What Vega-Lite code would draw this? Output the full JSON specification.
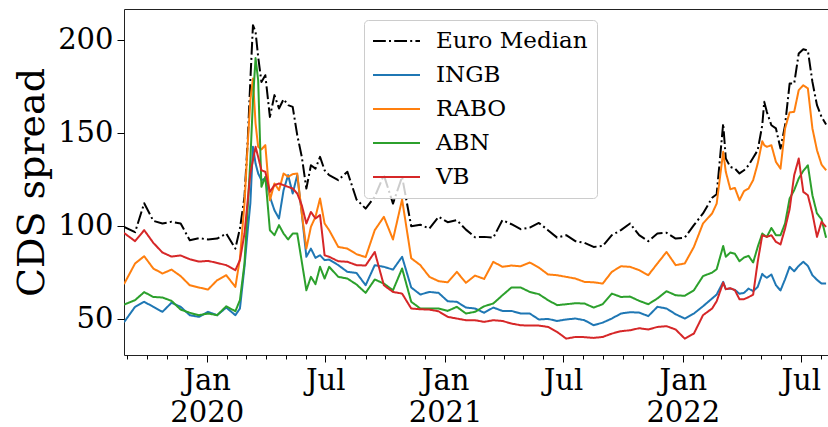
{
  "$schema": "https://vega.github.io/schema/vega-lite/v6.json",
  "width": 706,
  "height": 346,
  "autosize": {"type": "none"},
  "padding": {"left": 124, "top": 9, "right": 0, "bottom": 72},
  "background": "white",
  "config": {
    "view": {"stroke": "#222", "strokeWidth": 1},
    "font": "DejaVu Serif",
    "axis": {"grid": false, "domain": false, "tickColor": "#000", "labelColor": "#000", "titleColor": "#000", "labelFont": "DejaVu Serif", "titleFont": "DejaVu Serif"}
  },
  "layer": [
    {
      "data": {
        "values": [
          {"date": "2019-08-27", "Euro Median": 99.3, "INGB": 48.0, "RABO": 68.5, "ABN": 57.5, "VB": 96.0},
          {"date": "2019-09-13", "Euro Median": 96.4, "INGB": 56.3, "RABO": 79.6, "ABN": 59.9, "VB": 91.6},
          {"date": "2019-09-27", "Euro Median": 112.0, "INGB": 59.0, "RABO": 83.5, "ABN": 64.2, "VB": 97.5},
          {"date": "2019-10-11", "Euro Median": 102.5, "INGB": 56.3, "RABO": 76.9, "ABN": 61.6, "VB": 90.7},
          {"date": "2019-10-25", "Euro Median": 101.1, "INGB": 53.6, "RABO": 74.2, "ABN": 61.3, "VB": 85.5},
          {"date": "2019-11-08", "Euro Median": 102.0, "INGB": 58.5, "RABO": 76.3, "ABN": 59.5, "VB": 83.3},
          {"date": "2019-11-22", "Euro Median": 101.1, "INGB": 56.3, "RABO": 72.8, "ABN": 54.8, "VB": 83.9},
          {"date": "2019-12-06", "Euro Median": 92.1, "INGB": 51.8, "RABO": 67.9, "ABN": 53.1, "VB": 81.9},
          {"date": "2019-12-20", "Euro Median": 93.2, "INGB": 50.9, "RABO": 66.7, "ABN": 51.8, "VB": 80.6},
          {"date": "2020-01-03", "Euro Median": 92.5, "INGB": 53.6, "RABO": 65.6, "ABN": 52.7, "VB": 81.0},
          {"date": "2020-01-17", "Euro Median": 93.0, "INGB": 51.8, "RABO": 70.6, "ABN": 51.8, "VB": 79.9},
          {"date": "2020-01-31", "Euro Median": 95.7, "INGB": 55.9, "RABO": 73.3, "ABN": 56.6, "VB": 78.7},
          {"date": "2020-02-14", "Euro Median": 87.6, "INGB": 51.8, "RABO": 67.0, "ABN": 53.9, "VB": 76.0},
          {"date": "2020-02-21", "Euro Median": 98.4, "INGB": 55.4, "RABO": 82.3, "ABN": 59.9, "VB": 81.4},
          {"date": "2020-02-28", "Euro Median": 115.4, "INGB": 77.8, "RABO": 111.8, "ABN": 79.6, "VB": 95.7},
          {"date": "2020-03-04", "Euro Median": 145.9, "INGB": 97.5, "RABO": 144.1, "ABN": 110.0, "VB": 113.6},
          {"date": "2020-03-08", "Euro Median": 178.1, "INGB": 111.8, "RABO": 167.4, "ABN": 135.1, "VB": 128.0},
          {"date": "2020-03-12", "Euro Median": 207.7, "INGB": 142.3, "RABO": 179.0, "ABN": 167.4, "VB": 135.1},
          {"date": "2020-03-16", "Euro Median": 204.1, "INGB": 133.3, "RABO": 154.8, "ABN": 190.0, "VB": 142.3},
          {"date": "2020-03-20", "Euro Median": 190.7, "INGB": 128.0, "RABO": 142.3, "ABN": 178.1, "VB": 136.9},
          {"date": "2020-03-25", "Euro Median": 177.2, "INGB": 124.4, "RABO": 140.9, "ABN": 120.8, "VB": 129.7},
          {"date": "2020-03-31", "Euro Median": 180.8, "INGB": 125.3, "RABO": 143.2, "ABN": 126.2, "VB": 128.9},
          {"date": "2020-04-07", "Euro Median": 158.4, "INGB": 115.4, "RABO": 113.6, "ABN": 97.5, "VB": 118.1},
          {"date": "2020-04-14", "Euro Median": 170.1, "INGB": 108.2, "RABO": 122.6, "ABN": 94.8, "VB": 121.7},
          {"date": "2020-04-21", "Euro Median": 162.9, "INGB": 103.8, "RABO": 119.0, "ABN": 100.2, "VB": 122.6},
          {"date": "2020-04-28", "Euro Median": 167.9, "INGB": 119.0, "RABO": 128.0, "ABN": 95.7, "VB": 121.7},
          {"date": "2020-05-05", "Euro Median": 164.7, "INGB": 127.1, "RABO": 126.2, "ABN": 92.5, "VB": 120.8},
          {"date": "2020-05-12", "Euro Median": 163.8, "INGB": 117.2, "RABO": 127.6, "ABN": 95.7, "VB": 119.9},
          {"date": "2020-05-19", "Euro Median": 148.6, "INGB": 127.1, "RABO": 128.0, "ABN": 95.7, "VB": 117.2},
          {"date": "2020-05-26", "Euro Median": 136.9, "INGB": 106.5, "RABO": 106.5, "ABN": 80.5, "VB": 110.9},
          {"date": "2020-06-02", "Euro Median": 119.9, "INGB": 83.2, "RABO": 87.6, "ABN": 65.2, "VB": 101.1},
          {"date": "2020-06-09", "Euro Median": 132.4, "INGB": 87.6, "RABO": 99.3, "ABN": 72.4, "VB": 107.3},
          {"date": "2020-06-16", "Euro Median": 130.6, "INGB": 82.6, "RABO": 104.7, "ABN": 68.5, "VB": 103.8},
          {"date": "2020-06-23", "Euro Median": 136.9, "INGB": 84.0, "RABO": 114.5, "ABN": 77.8, "VB": 105.6},
          {"date": "2020-06-30", "Euro Median": 129.7, "INGB": 81.4, "RABO": 101.1, "ABN": 71.5, "VB": 84.0},
          {"date": "2020-07-07", "Euro Median": 127.1, "INGB": 81.7, "RABO": 97.5, "ABN": 77.8, "VB": 83.2},
          {"date": "2020-07-21", "Euro Median": 124.4, "INGB": 78.7, "RABO": 88.5, "ABN": 72.4, "VB": 80.8},
          {"date": "2020-08-04", "Euro Median": 128.9, "INGB": 75.1, "RABO": 87.6, "ABN": 71.5, "VB": 80.5},
          {"date": "2020-08-18", "Euro Median": 114.0, "INGB": 74.5, "RABO": 84.6, "ABN": 68.3, "VB": 78.7},
          {"date": "2020-09-01", "Euro Median": 109.1, "INGB": 67.9, "RABO": 83.0, "ABN": 63.8, "VB": 78.5},
          {"date": "2020-09-15", "Euro Median": 115.4, "INGB": 78.7, "RABO": 97.5, "ABN": 71.0, "VB": 85.8},
          {"date": "2020-09-29", "Euro Median": 127.1, "INGB": 77.8, "RABO": 104.7, "ABN": 68.8, "VB": 67.9},
          {"date": "2020-10-13", "Euro Median": 111.8, "INGB": 76.3, "RABO": 92.5, "ABN": 65.2, "VB": 64.3},
          {"date": "2020-10-27", "Euro Median": 126.2, "INGB": 83.2, "RABO": 114.0, "ABN": 76.9, "VB": 63.4},
          {"date": "2020-11-10", "Euro Median": 99.6, "INGB": 66.7, "RABO": 82.4, "ABN": 59.0, "VB": 55.4},
          {"date": "2020-11-24", "Euro Median": 100.4, "INGB": 62.9, "RABO": 78.7, "ABN": 55.4, "VB": 55.0},
          {"date": "2020-12-08", "Euro Median": 98.4, "INGB": 64.3, "RABO": 72.4, "ABN": 55.4, "VB": 54.8},
          {"date": "2020-12-22", "Euro Median": 104.7, "INGB": 63.8, "RABO": 70.1, "ABN": 55.4, "VB": 53.9},
          {"date": "2021-01-05", "Euro Median": 101.8, "INGB": 59.3, "RABO": 69.5, "ABN": 54.1, "VB": 50.9},
          {"date": "2021-01-19", "Euro Median": 102.9, "INGB": 59.0, "RABO": 75.1, "ABN": 56.3, "VB": 50.0},
          {"date": "2021-02-02", "Euro Median": 97.8, "INGB": 55.9, "RABO": 69.2, "ABN": 52.7, "VB": 49.1},
          {"date": "2021-02-16", "Euro Median": 93.7, "INGB": 55.4, "RABO": 73.1, "ABN": 53.6, "VB": 49.1},
          {"date": "2021-03-02", "Euro Median": 93.9, "INGB": 53.1, "RABO": 71.3, "ABN": 56.6, "VB": 48.2},
          {"date": "2021-03-16", "Euro Median": 93.5, "INGB": 55.9, "RABO": 80.5, "ABN": 58.1, "VB": 49.1},
          {"date": "2021-03-30", "Euro Median": 102.9, "INGB": 54.1, "RABO": 77.8, "ABN": 62.5, "VB": 48.7},
          {"date": "2021-04-13", "Euro Median": 100.7, "INGB": 54.1, "RABO": 78.5, "ABN": 66.7, "VB": 47.3},
          {"date": "2021-04-27", "Euro Median": 98.0, "INGB": 52.7, "RABO": 78.1, "ABN": 66.7, "VB": 46.4},
          {"date": "2021-05-11", "Euro Median": 98.9, "INGB": 52.7, "RABO": 80.1, "ABN": 64.3, "VB": 46.2},
          {"date": "2021-05-25", "Euro Median": 101.4, "INGB": 49.5, "RABO": 77.4, "ABN": 63.1, "VB": 46.2},
          {"date": "2021-06-08", "Euro Median": 97.5, "INGB": 49.8, "RABO": 73.7, "ABN": 59.9, "VB": 45.5},
          {"date": "2021-06-22", "Euro Median": 93.5, "INGB": 48.7, "RABO": 73.3, "ABN": 57.2, "VB": 42.8},
          {"date": "2021-07-06", "Euro Median": 94.8, "INGB": 49.5, "RABO": 72.4, "ABN": 57.7, "VB": 39.2},
          {"date": "2021-07-20", "Euro Median": 91.6, "INGB": 50.0, "RABO": 71.5, "ABN": 58.2, "VB": 40.1},
          {"date": "2021-08-03", "Euro Median": 90.7, "INGB": 49.1, "RABO": 69.7, "ABN": 58.1, "VB": 40.0},
          {"date": "2021-08-17", "Euro Median": 88.5, "INGB": 46.4, "RABO": 69.5, "ABN": 55.9, "VB": 39.6},
          {"date": "2021-08-31", "Euro Median": 89.0, "INGB": 47.8, "RABO": 68.8, "ABN": 57.7, "VB": 40.1},
          {"date": "2021-09-14", "Euro Median": 94.8, "INGB": 50.0, "RABO": 75.1, "ABN": 63.4, "VB": 41.9},
          {"date": "2021-09-28", "Euro Median": 97.5, "INGB": 52.7, "RABO": 78.1, "ABN": 61.6, "VB": 43.2},
          {"date": "2021-10-12", "Euro Median": 101.1, "INGB": 53.4, "RABO": 77.8, "ABN": 61.8, "VB": 43.7},
          {"date": "2021-10-26", "Euro Median": 94.8, "INGB": 53.2, "RABO": 76.0, "ABN": 59.5, "VB": 44.8},
          {"date": "2021-11-09", "Euro Median": 91.6, "INGB": 51.3, "RABO": 73.3, "ABN": 57.7, "VB": 44.1},
          {"date": "2021-11-23", "Euro Median": 95.7, "INGB": 56.3, "RABO": 79.6, "ABN": 60.8, "VB": 45.5},
          {"date": "2021-12-07", "Euro Median": 96.1, "INGB": 55.4, "RABO": 85.8, "ABN": 64.7, "VB": 45.9},
          {"date": "2021-12-21", "Euro Median": 93.0, "INGB": 52.3, "RABO": 78.7, "ABN": 62.5, "VB": 44.1},
          {"date": "2022-01-04", "Euro Median": 93.5, "INGB": 50.0, "RABO": 79.6, "ABN": 62.2, "VB": 39.2},
          {"date": "2022-01-18", "Euro Median": 100.2, "INGB": 52.7, "RABO": 88.5, "ABN": 65.2, "VB": 41.9},
          {"date": "2022-02-01", "Euro Median": 106.5, "INGB": 56.6, "RABO": 101.1, "ABN": 72.8, "VB": 51.8},
          {"date": "2022-02-15", "Euro Median": 114.9, "INGB": 60.8, "RABO": 106.5, "ABN": 74.7, "VB": 55.4},
          {"date": "2022-02-22", "Euro Median": 116.8, "INGB": 62.9, "RABO": 111.8, "ABN": 76.5, "VB": 59.3},
          {"date": "2022-03-04", "Euro Median": 154.8, "INGB": 69.7, "RABO": 139.6, "ABN": 89.0, "VB": 69.3},
          {"date": "2022-03-08", "Euro Median": 136.0, "INGB": 65.8, "RABO": 128.9, "ABN": 83.2, "VB": 65.8},
          {"date": "2022-03-15", "Euro Median": 131.5, "INGB": 66.1, "RABO": 119.5, "ABN": 85.5, "VB": 66.3},
          {"date": "2022-03-22", "Euro Median": 130.6, "INGB": 65.4, "RABO": 120.2, "ABN": 84.8, "VB": 65.2},
          {"date": "2022-03-29", "Euro Median": 128.0, "INGB": 63.3, "RABO": 113.6, "ABN": 80.8, "VB": 60.4},
          {"date": "2022-04-05", "Euro Median": 129.7, "INGB": 63.8, "RABO": 118.5, "ABN": 82.8, "VB": 60.4},
          {"date": "2022-04-12", "Euro Median": 132.4, "INGB": 66.1, "RABO": 119.9, "ABN": 83.7, "VB": 61.5},
          {"date": "2022-04-19", "Euro Median": 136.4, "INGB": 64.7, "RABO": 124.4, "ABN": 80.1, "VB": 62.9},
          {"date": "2022-04-26", "Euro Median": 140.5, "INGB": 67.0, "RABO": 133.3, "ABN": 88.5, "VB": 80.5},
          {"date": "2022-05-03", "Euro Median": 153.9, "INGB": 74.0, "RABO": 145.3, "ABN": 95.7, "VB": 94.8},
          {"date": "2022-05-06", "Euro Median": 166.5, "INGB": 72.9, "RABO": 143.2, "ABN": 94.8, "VB": 94.4},
          {"date": "2022-05-10", "Euro Median": 161.1, "INGB": 71.9, "RABO": 142.3, "ABN": 93.9, "VB": 93.9},
          {"date": "2022-05-17", "Euro Median": 153.9, "INGB": 73.7, "RABO": 143.2, "ABN": 98.7, "VB": 94.8},
          {"date": "2022-05-24", "Euro Median": 152.2, "INGB": 67.9, "RABO": 134.2, "ABN": 94.8, "VB": 91.2},
          {"date": "2022-05-31", "Euro Median": 141.4, "INGB": 65.1, "RABO": 130.6, "ABN": 94.8, "VB": 89.8},
          {"date": "2022-06-07", "Euro Median": 153.9, "INGB": 71.1, "RABO": 152.2, "ABN": 101.1, "VB": 98.4},
          {"date": "2022-06-14", "Euro Median": 176.3, "INGB": 77.8, "RABO": 160.8, "ABN": 114.5, "VB": 108.8},
          {"date": "2022-06-21", "Euro Median": 176.3, "INGB": 75.4, "RABO": 161.1, "ABN": 119.0, "VB": 127.0},
          {"date": "2022-06-28", "Euro Median": 192.5, "INGB": 78.3, "RABO": 172.8, "ABN": 125.3, "VB": 136.0},
          {"date": "2022-07-05", "Euro Median": 194.8, "INGB": 80.5, "RABO": 175.4, "ABN": 129.4, "VB": 118.1},
          {"date": "2022-07-12", "Euro Median": 194.1, "INGB": 78.3, "RABO": 173.7, "ABN": 132.4, "VB": 116.3},
          {"date": "2022-07-19", "Euro Median": 177.2, "INGB": 73.3, "RABO": 152.2, "ABN": 116.3, "VB": 106.5},
          {"date": "2022-07-26", "Euro Median": 164.7, "INGB": 70.8, "RABO": 140.5, "ABN": 106.5, "VB": 93.9},
          {"date": "2022-08-02", "Euro Median": 158.4, "INGB": 68.8, "RABO": 132.8, "ABN": 103.4, "VB": 102.0},
          {"date": "2022-08-09", "Euro Median": 154.3, "INGB": 68.8, "RABO": 129.7, "ABN": 93.4, "VB": 99.3}
        ]
      },
      "transform": [{"fold": ["Euro Median", "INGB", "RABO", "ABN", "VB"], "as": ["series", "value"]}],
      "mark": {"type": "line", "strokeWidth": 2, "strokeJoin": "round", "clip": true},
      "encoding": {
        "x": {
          "field": "date", "type": "temporal",
          "scale": {"type": "utc", "domain": ["2019-08-27", "2022-08-15"]},
          "axis": {
            "title": null,
            "orient": "bottom",
            "values": [
              {"year": 2020, "month": 1, "date": 1, "utc": true},
              {"year": 2020, "month": 7, "date": 1, "utc": true},
              {"year": 2021, "month": 1, "date": 1, "utc": true},
              {"year": 2021, "month": 7, "date": 1, "utc": true},
              {"year": 2022, "month": 1, "date": 1, "utc": true},
              {"year": 2022, "month": 7, "date": 1, "utc": true}
            ],
            "labelExpr": "utcmonth(datum.value) == 0 ? ['Jan', utcFormat(datum.value, '%Y')] : 'Jul'",
            "labelFontSize": 29,
            "labelLineHeight": 32,
            "labelPadding": 4,
            "tickSize": 7,
            "labelFlush": false,
            "labelOverlap": false
          }
        },
        "y": {
          "field": "value", "type": "quantitative",
          "scale": {"domain": [30.4, 216.4], "nice": false, "zero": false},
          "axis": {
            "title": "CDS spread",
            "titleFontSize": 38,
            "titleFontWeight": "normal",
            "titlePadding": 6,
            "values": [50, 100, 150, 200],
            "labelFontSize": 29,
            "labelPadding": 4,
            "tickSize": 7
          }
        },
        "color": {
          "field": "series", "type": "nominal",
          "scale": {"domain": ["Euro Median", "INGB", "RABO", "ABN", "VB"], "range": ["#000000", "#1f77b4", "#ff7f0e", "#2ca02c", "#d62728"]},
          "legend": {
            "title": null, "orient": "none", "legendX": 240, "legendY": 11,
            "labelFontSize": 23, "labelFont": "DejaVu Serif", "labelColor": "#000",
            "symbolType": "M-1.09,0H3.18", "symbolSize": 484, "symbolStrokeWidth": 2,
            "labelOffset": 39, "rowPadding": 10, "padding": 9,
            "fillColor": "rgba(255,255,255,0.8)", "strokeColor": "#cccccc", "cornerRadius": 4
          }
        },
        "strokeDash": {
          "field": "series", "type": "nominal",
          "scale": {"domain": ["Euro Median", "INGB", "RABO", "ABN", "VB"], "range": [[12.8, 3.2, 2, 3.2], [1, 0], [1, 0], [1, 0], [1, 0]]},
          "legend": {
            "title": null, "orient": "none", "legendX": 240, "legendY": 11,
            "labelFontSize": 23, "labelFont": "DejaVu Serif", "labelColor": "#000",
            "symbolType": "M-1.09,0H3.18", "symbolSize": 484, "symbolStrokeWidth": 2,
            "labelOffset": 39, "rowPadding": 10, "padding": 9,
            "fillColor": "rgba(255,255,255,0.8)", "strokeColor": "#cccccc", "cornerRadius": 4
          }
        }
      }
    },
    {
      "data": {"values": [{"d": "2020-01-01"}]},
      "mark": {"type": "rule", "opacity": 0},
      "encoding": {
        "x": {
          "field": "d", "type": "temporal",
          "scale": {"type": "utc", "domain": ["2019-08-27", "2022-08-15"]},
          "axis": {
            "title": null, "labels": false, "tickSize": 4, "orient": "bottom",
            "values": [
              {"year": 2019, "month": 9, "date": 1, "utc": true},
              {"year": 2019, "month": 10, "date": 1, "utc": true},
              {"year": 2019, "month": 11, "date": 1, "utc": true},
              {"year": 2019, "month": 12, "date": 1, "utc": true},
              {"year": 2020, "month": 2, "date": 1, "utc": true},
              {"year": 2020, "month": 3, "date": 1, "utc": true},
              {"year": 2020, "month": 4, "date": 1, "utc": true},
              {"year": 2020, "month": 5, "date": 1, "utc": true},
              {"year": 2020, "month": 6, "date": 1, "utc": true},
              {"year": 2020, "month": 8, "date": 1, "utc": true},
              {"year": 2020, "month": 9, "date": 1, "utc": true},
              {"year": 2020, "month": 10, "date": 1, "utc": true},
              {"year": 2020, "month": 11, "date": 1, "utc": true},
              {"year": 2020, "month": 12, "date": 1, "utc": true},
              {"year": 2021, "month": 2, "date": 1, "utc": true},
              {"year": 2021, "month": 3, "date": 1, "utc": true},
              {"year": 2021, "month": 4, "date": 1, "utc": true},
              {"year": 2021, "month": 5, "date": 1, "utc": true},
              {"year": 2021, "month": 6, "date": 1, "utc": true},
              {"year": 2021, "month": 8, "date": 1, "utc": true},
              {"year": 2021, "month": 9, "date": 1, "utc": true},
              {"year": 2021, "month": 10, "date": 1, "utc": true},
              {"year": 2021, "month": 11, "date": 1, "utc": true},
              {"year": 2021, "month": 12, "date": 1, "utc": true},
              {"year": 2022, "month": 2, "date": 1, "utc": true},
              {"year": 2022, "month": 3, "date": 1, "utc": true},
              {"year": 2022, "month": 4, "date": 1, "utc": true},
              {"year": 2022, "month": 5, "date": 1, "utc": true},
              {"year": 2022, "month": 6, "date": 1, "utc": true},
              {"year": 2022, "month": 8, "date": 1, "utc": true}
            ]
          }
        }
      }
    }
  ],
  "resolve": {"axis": {"x": "independent"}}
}
